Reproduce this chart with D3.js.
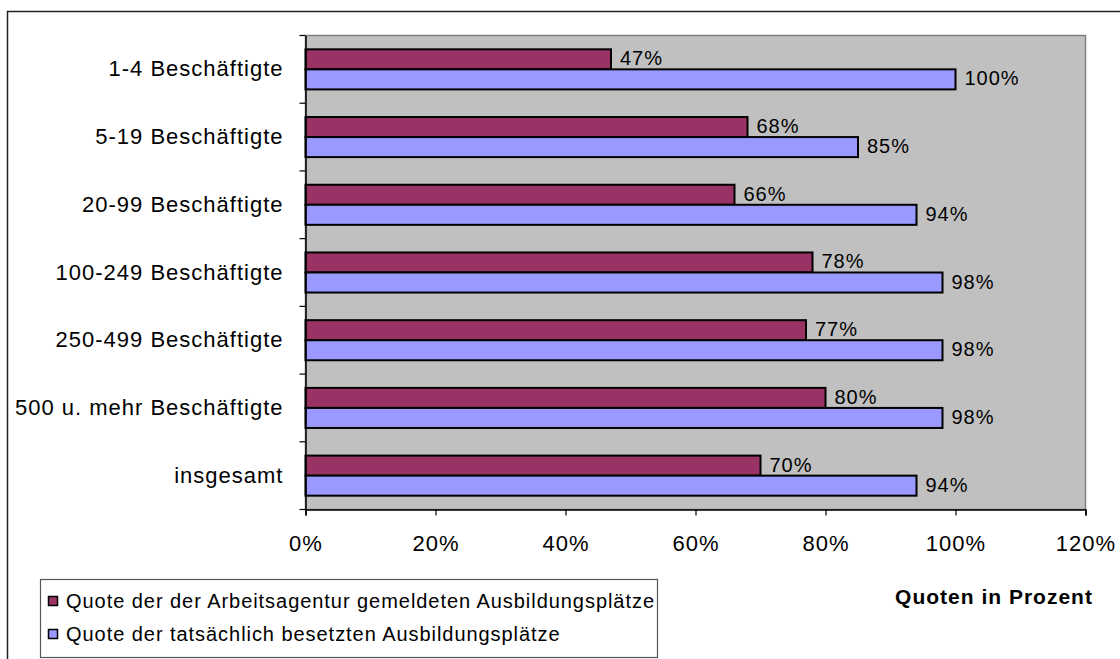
<!DOCTYPE html>
<html lang="de">
<head>
<meta charset="utf-8">
<script src="https://cdn.jsdelivr.net/npm/d3@7"></script>
<style>
  html, body { margin: 0; padding: 0; background: #fff; }
  svg { display: block; font-family: "Liberation Sans", Arial, sans-serif; }
</style>
</head>
<body>
<svg id="chart" width="1120" height="659"></svg>
<script>
// Betriebsgrößenklassen (Kategorien der y-Achse)
const categories = [
  "1-4 Beschäftigte",
  "5-19 Beschäftigte",
  "20-99 Beschäftigte",
  "100-249 Beschäftigte",
  "250-499 Beschäftigte",
  "500 u. mehr Beschäftigte",
  "insgesamt"
];

// Reihennamen (Legende)
const seriesNames = [
  "Quote der der Arbeitsagentur gemeldeten Ausbildungsplätze",
  "Quote der tatsächlich besetzten Ausbildungsplätze"
];

// Quoten in Prozent
const gemeldet = [47, 68, 66, 78, 77, 80, 70];
const besetzt  = [100, 85, 94, 98, 98, 98, 94];

// Achsenbeschriftung
const xTicks = [0, 20, 40, 60, 80, 100, 120];
const xTitle = "Quoten in Prozent";

const colors = ["#993366", "#9999FF"];

const svg = d3.select("#chart");

// Äußerer Diagrammrahmen
svg.append("rect")
  .attr("x", 7.5).attr("y", 11.5)
  .attr("width", 1130).attr("height", 660)
  .attr("fill", "#fff")
  .attr("stroke", "#222").attr("stroke-width", 1.5);

const plot = { left: 305.5, top: 35.5, right: 1085.5, bottom: 509.5 };

const x = d3.scaleLinear()
  .domain([0, 120])
  .range([plot.left, plot.right]);

const y0 = d3.scaleBand()
  .domain(categories)
  .range([plot.top, plot.bottom])
  .padding(0);

const y1 = d3.scaleBand()
  .domain(d3.range(seriesNames.length))
  .range([0, y0.bandwidth()])
  .paddingInner(0)
  .paddingOuter(0.69);

// Zeichenfläche
svg.append("rect")
  .attr("x", plot.left).attr("y", plot.top)
  .attr("width", plot.right - plot.left)
  .attr("height", plot.bottom - plot.top)
  .attr("fill", "#C0C0C0")
  .attr("stroke", "#808080").attr("stroke-width", 1.5);

const rows = categories.map((c, i) => ({ cat: c, vals: [gemeldet[i], besetzt[i]] }));

const groups = svg.append("g").selectAll("g")
  .data(rows)
  .join("g")
  .attr("transform", d => `translate(0,${y0(d.cat)})`);

groups.selectAll("rect")
  .data(d => d.vals.map((v, s) => ({ v, s })))
  .join("rect")
  .attr("x", x(0))
  .attr("y", d => y1(d.s))
  .attr("width", d => x(d.v) - x(0))
  .attr("height", y1.bandwidth())
  .attr("fill", d => colors[d.s])
  .attr("stroke", "#000")
  .attr("stroke-width", 2);

// Datenbeschriftungen
groups.selectAll("text")
  .data(d => d.vals.map((v, s) => ({ v, s })))
  .join("text")
  .attr("x", d => x(d.v) + 9)
  .attr("y", d => y1(d.s) + y1.bandwidth() / 2 - 1)
  .attr("dy", "0.35em")
  .attr("font-size", 20)
  .attr("letter-spacing", 1)
  .attr("fill", "#000")
  .text(d => d.v + "%");

// y-Achse
const yAxis = svg.append("g")
  .attr("transform", `translate(${plot.left},0)`)
  .call(d3.axisLeft(y0).tickSize(0).tickPadding(22));
yAxis.select(".domain").attr("stroke", "#000").attr("stroke-width", 1.5);
yAxis.selectAll("text")
  .attr("font-size", 22)
  .attr("letter-spacing", 1)
  .attr("font-family", "Liberation Sans, Arial, sans-serif")
  .attr("fill", "#000");

// Teilstriche zwischen den Kategorien
const catEdges = categories.map(c => y0(c)).concat([y0.range()[1]]);
svg.append("g").selectAll("line")
  .data(catEdges)
  .join("line")
  .attr("x1", plot.left - 6).attr("x2", plot.left)
  .attr("y1", d => d).attr("y2", d => d)
  .attr("stroke", "#000").attr("stroke-width", 1.2);

// x-Achse
const xAxis = svg.append("g")
  .attr("transform", `translate(0,${plot.bottom})`)
  .call(d3.axisBottom(x).tickValues(xTicks).tickFormat(d => d + "%").tickSize(6).tickPadding(20));
xAxis.select(".domain").attr("stroke", "#000").attr("stroke-width", 1.5);
xAxis.selectAll(".tick line").attr("stroke", "#000").attr("stroke-width", 1.2);
xAxis.selectAll("text")
  .attr("font-size", 22)
  .attr("letter-spacing", 1)
  .attr("font-family", "Liberation Sans, Arial, sans-serif")
  .attr("fill", "#000");

// Achsentitel
svg.append("text")
  .attr("x", 994).attr("y", 604)
  .attr("text-anchor", "middle")
  .attr("font-size", 21)
  .attr("font-weight", "bold")
  .attr("letter-spacing", 1)
  .text(xTitle);

// Legende
const legend = svg.append("g");
legend.append("rect")
  .attr("x", 40.5).attr("y", 579.5)
  .attr("width", 617).attr("height", 78)
  .attr("fill", "#fff")
  .attr("stroke", "#555").attr("stroke-width", 1.2);

const items = legend.selectAll("g.item")
  .data(seriesNames)
  .join("g")
  .attr("class", "item")
  .attr("transform", (d, i) => `translate(48,${601 + i * 33})`);

items.append("rect")
  .attr("x", 0.5).attr("y", -4.5)
  .attr("width", 9).attr("height", 9)
  .attr("fill", (d, i) => colors[i])
  .attr("stroke", "#000").attr("stroke-width", 1.5);

items.append("text")
  .attr("x", 18).attr("y", 0)
  .attr("dy", "0.35em")
  .attr("font-size", 20)
  .attr("letter-spacing", 0.95)
  .text(d => d);
</script>
</body>
</html>
